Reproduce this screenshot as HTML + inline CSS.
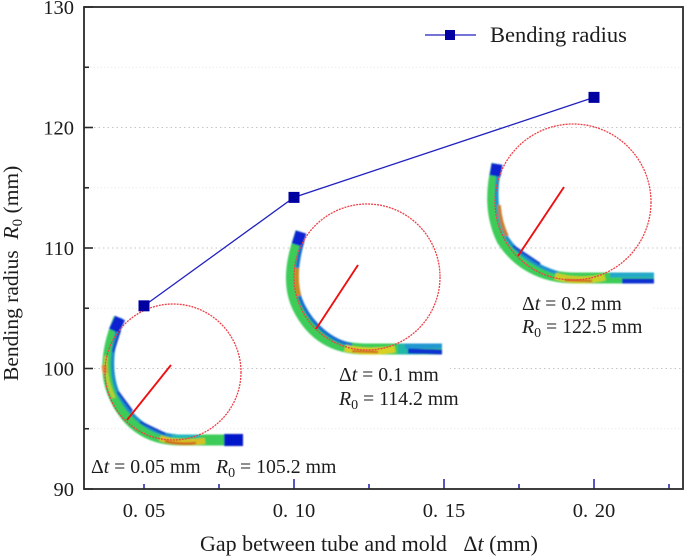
<!DOCTYPE html>
<html>
<head>
<meta charset="utf-8">
<style>
html,body{margin:0;padding:0;background:#fff;width:685px;height:558px;overflow:hidden}
svg{display:block;font-family:"Liberation Serif",serif;filter:blur(0.3px)}
text{fill:#1c1c1c}
</style>
</head>
<body>
<svg id="chart" width="685" height="558" viewBox="0 0 685 558" xmlns="http://www.w3.org/2000/svg">
<defs>
<filter id="soft" x="-10%" y="-10%" width="120%" height="120%"><feGaussianBlur stdDeviation="0.8"/></filter>
<linearGradient id="end-a" x1="0" x2="1" y1="0" y2="0"><stop offset="0" stop-color="#58d840"/><stop offset="0.45" stop-color="#18b8b0"/><stop offset="1" stop-color="#0a28d0"/></linearGradient>
</defs>
<g id="grid"></g>
<rect x="327" y="356" width="123" height="56" fill="#fff"/>
<rect x="512" y="292" width="140" height="50" fill="#fff"/>

<g filter="url(#soft)" fill="none">
<path d="M119 318 C108 345 103 372 114 396 C125 421 145 440 180 440 L243 440" stroke="#3ccc58" stroke-width="11"/>
<path d="M121 318 C112 345 109 372 118 393 C128 414 148 434 176 436" stroke="#1c90c8" stroke-width="3.5"/>
<path d="M120 330 L113 352 M118 392 L132 411 M140 422 L165 434" stroke="#1848c8" stroke-width="2.5"/>
<path d="M106 356 C105 372 108 386 114 398" stroke="#b8d030" stroke-width="3.5"/>
<path d="M104 365 L105 373" stroke="#d89030" stroke-width="5"/>
<path d="M160 438 C172 443 190 443 205 441" stroke="#d8c020" stroke-width="6"/>
<path d="M165 441 C175 444 188 444 196 443" stroke="#d06820" stroke-width="2.5"/>
<path d="M172 436 L200 436" stroke="#20b8c0" stroke-width="3"/>
<path d="M120 318 L114 331" stroke="#0a20d0" stroke-width="11"/>
<path d="M204 440 L224 440" stroke="url(#end-a)" stroke-width="11"/>
<path d="M224 440 L243 440" stroke="#0414c8" stroke-width="12"/>
</g>
<g filter="url(#soft)" fill="none">
<path d="M301 232 C291 260 287 285 298 308 C310 332 330 349 365 349 L442 349" stroke="#3ccc58" stroke-width="11"/>
<path d="M303 240 C297 262 293 285 303 305 C313 325 331 341 352 345" stroke="#1470d0" stroke-width="3.5"/>
<path d="M297 268 C296 280 297 288 299 296" stroke="#c88820" stroke-width="4.5"/>
<path d="M345 348 C360 352 380 352 395 349" stroke="#d8d020" stroke-width="7"/>
<path d="M352 351 L378 352" stroke="#d07020" stroke-width="2.5"/>
<path d="M301 232 L297 245" stroke="#0a20d0" stroke-width="11"/>
<path d="M398 349 L420 349" stroke="#24b8a8" stroke-width="11"/>
<path d="M405 346 L442 346" stroke="#2098d0" stroke-width="5"/>
<path d="M408 351 L442 352" stroke="#0a30d0" stroke-width="5"/>
</g>
<g filter="url(#soft)" fill="none">
<path d="M497 164 C491 190 490 215 502 240 C516 262 540 278 575 278 L654 278" stroke="#3ccc58" stroke-width="11"/>
<path d="M498 175 C495 200 497 218 507 238 C519 256 540 268 558 273" stroke="#1c90d0" stroke-width="3.5"/>
<path d="M513 246 L540 264" stroke="#1848c8" stroke-width="2.5"/>
<path d="M499 205 C500 218 503 228 507 236" stroke="#c88030" stroke-width="3.5"/>
<path d="M555 276 C570 281 590 281 605 277" stroke="#c8d028" stroke-width="7"/>
<path d="M565 280 L592 281" stroke="#d07020" stroke-width="2.5"/>
<path d="M497 164 L495 176" stroke="#0a20d0" stroke-width="11"/>
<path d="M610 275 L654 275" stroke="#20a8c8" stroke-width="5"/>
<path d="M622 281 L654 281" stroke="#0a30d0" stroke-width="5"/>
</g>

<g fill="none" stroke="#ee4048" stroke-width="1.3" stroke-dasharray="2 1">
<circle cx="173" cy="372" r="68"/>
<circle cx="367" cy="277" r="73"/>
<circle cx="573" cy="202" r="78"/>
</g>
<g stroke="#ee1010" stroke-width="1.9">
<line x1="171" y1="365" x2="127" y2="420"/>
<line x1="358" y1="265" x2="316" y2="329"/>
<line x1="564" y1="187" x2="518" y2="256"/>
</g>

<g id="ticks"></g>
<rect x="84" y="7" width="599" height="482" fill="none" stroke="#2a2a2a" stroke-width="1.8"/>
<g id="tick-labels"></g>
<g id="series"></g>

<g>
<line x1="425" y1="35" x2="476" y2="35" stroke="#2222c0" stroke-width="1.3"/>
<rect x="445" y="30" width="10" height="10" fill="#0000a0"/>
<text x="490" y="42" font-size="22.5">Bending radius</text>
</g>

<text x="200" y="551" font-size="22" xml:space="preserve">Gap between tube and mold   Δ<tspan font-style="italic">t</tspan> (mm)</text>
<text transform="translate(18,381) rotate(-90)" font-size="21.5" xml:space="preserve">Bending radius  <tspan font-style="italic">R</tspan><tspan font-size="15" dy="4">0</tspan><tspan dy="-4"> (mm)</tspan></text>

<g font-size="19.8">
<text x="91" y="473">Δ<tspan font-style="italic">t</tspan> = 0.05 mm</text>
<text x="216" y="473"><tspan font-style="italic">R</tspan><tspan font-size="14" dy="4">0</tspan><tspan dy="-4"> = 105.2 mm</tspan></text>
<text x="339" y="381">Δ<tspan font-style="italic">t</tspan> = 0.1 mm</text>
<text x="339" y="405"><tspan font-style="italic">R</tspan><tspan font-size="14" dy="4">0</tspan><tspan dy="-4"> = 114.2 mm</tspan></text>
<text x="522" y="310">Δ<tspan font-style="italic">t</tspan> = 0.2 mm</text>
<text x="522" y="333"><tspan font-style="italic">R</tspan><tspan font-size="14" dy="4">0</tspan><tspan dy="-4"> = 122.5 mm</tspan></text>
</g>
</svg>
<script>
const gapValues = [0.05, 0.10, 0.20];
const radiusValues = [105.2, 114.2, 122.5];
const xTickLabels = ["0. 05", "0. 10", "0. 15", "0. 20"];
const xTickValues = [0.05, 0.10, 0.15, 0.20];
const xMinorTicks = [0.075, 0.125, 0.175, 0.225];
const yTickValues = [90, 100, 110, 120, 130];
const yMinorTicks = [95, 105, 115, 125];

const NS = 'http://www.w3.org/2000/svg';
function xScale(v) { return 144 + (v - 0.05) * 3000; }
function yScale(v) { return 489 - (v - 90) * 12.05; }
function make(parent, tag, attrs) {
  const el = document.createElementNS(NS, tag);
  for (const k in attrs) el.setAttribute(k, attrs[k]);
  parent.appendChild(el);
  return el;
}
const grid = document.getElementById('grid');
const ticks = document.getElementById('ticks');
const labels = document.getElementById('tick-labels');
const series = document.getElementById('series');

yTickValues.forEach(function (v) {
  const y = yScale(v);
  if (v > 90 && v < 130) {
    const g = make(grid, 'line', { x1: 94, x2: 683, y1: y, y2: y, stroke: '#c4c4c4', 'stroke-width': 1, 'stroke-dasharray': '1.5 3' });
    
    
  }
  const t = make(ticks, 'line', { x1: 84, x2: 93, y1: y, y2: y, stroke: '#2a2a2a', 'stroke-width': 1.6 });
  
  
  const l = make(labels, 'text', { x: 74, y: y + 7, 'text-anchor': 'end', 'font-size': 20.5 });
  
  
  l.textContent = String(v);
});
yMinorTicks.forEach(function (v) {
  const y = yScale(v);
  const g = make(grid, 'line', { x1: 90, x2: 683, y1: y, y2: y, stroke: '#ececec', 'stroke-width': 1, 'stroke-dasharray': '1.5 2' });
  
  
  const t = make(ticks, 'line', { x1: 84, x2: 89, y1: y, y2: y, stroke: '#2a2a2a', 'stroke-width': 1.6 });
  
  
});
xTickValues.forEach(function (v, i) {
  const x = xScale(v);
  const t = make(ticks, 'line', { x1: x, x2: x, y1: 489, y2: i === 0 ? 484 : 479, stroke: '#1c1cb0', 'stroke-width': 1.5 });
  
  
  const l = make(labels, 'text', { x: x, y: 517, 'text-anchor': 'middle', 'font-size': 20.5, 'word-spacing': 1.5 });
  
  
  l.textContent = xTickLabels[i];
});
xMinorTicks.forEach(function (v) {
  const x = xScale(v);
  const t = make(ticks, 'line', { x1: x, x2: x, y1: 489, y2: 484, stroke: '#1c1cb0', 'stroke-width': 1.5 });
  
  
});
const pts = gapValues.map(function (g, i) { return xScale(g) + ',' + yScale(radiusValues[i]); }).join(' ');
const line = make(series, 'polyline', { points: pts, fill: 'none', stroke: '#2222c0', 'stroke-width': 1.3 });


gapValues.forEach(function (g, i) {
  const m = make(series, 'rect', { x: xScale(g) - 5.5, y: yScale(radiusValues[i]) - 5.5, width: 11, height: 11, fill: '#0000a0' });
  
  
});
</script>
</body>
</html>
